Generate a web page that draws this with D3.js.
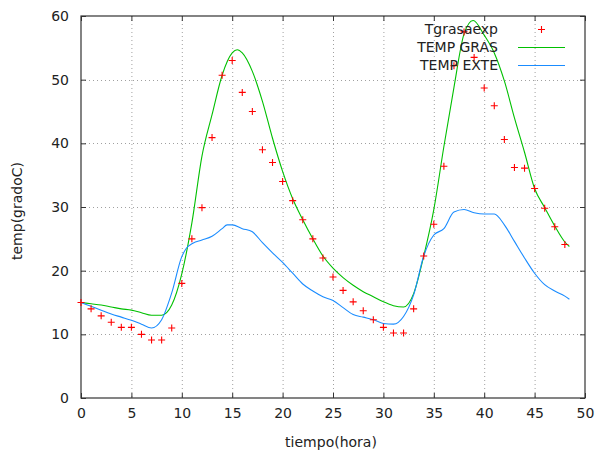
<!DOCTYPE html>
<html><head><meta charset="utf-8">
<script src="https://cdn.jsdelivr.net/npm/d3@7"></script>
<style>body{margin:0;background:#fff}svg{display:block}text{font-family:"DejaVu Sans",sans-serif;fill:#222}</style>
</head><body><svg id="c" width="595" height="450"></svg>
<script>
// Measured data (Tgrasaexp), hourly 0..48
const expHours = d3.range(0, 49);
const expValues = [15.0,14.0,12.9,11.9,11.1,11.1,10.0,9.1,9.1,11.0,
  18.0,25.0,29.9,40.9,50.7,53.0,48.0,45.0,39.0,37.0,
  34.0,31.0,28.0,25.0,22.0,19.0,16.9,15.1,13.7,12.3,
  11.1,10.2,10.2,14.0,22.3,27.3,36.4,52.2,57.5,53.5,
  48.7,45.9,40.6,36.2,36.1,32.9,29.8,26.9,24.1];
// Simulated TEMP GRAS
const grasHours = [0,1,2,3,4,5,6,7,8,9,10,11,12,13,14,15,15.5,16,17,18,19,20,21,22,23,24,25,26,27,28,29,30,31,32,33,34,35,36,37,38,38.9,40,41,42,43,44,45,46,47,48,48.45];
const grasValues = [15.0,14.8,14.6,14.3,14.0,13.8,13.4,13.0,13.0,14.6,19.5,27.5,38.0,44.5,50.7,54.2,54.7,54.2,51.3,46.6,40.8,35.6,31.3,28.0,25.0,22.3,20.4,18.9,17.7,16.7,15.9,15.1,14.5,14.3,16.4,22.3,29.6,39.5,48.8,57.2,59.3,57.0,54.2,49.8,44.0,38.6,32.9,29.9,27.0,24.5,23.8];
// Simulated TEMP EXTE
const exteHours = [0,1,2,3,4,5,6,7,8,9,10,10.4,11.1,12,13,14,14.5,15,16,17,18,19,20,21,22,23,24,25,26,27,28,29,30,31,32,33,34,35,36,37,38,39,40,41,42,43,44,45,46,47,48,48.45];
const exteValues = [15.0,14.4,13.8,13.2,12.7,12.2,11.6,11.0,12.3,16.5,22.2,23.4,24.3,24.8,25.4,26.6,27.2,27.2,26.6,26.1,24.4,22.8,21.3,19.6,17.9,16.8,15.9,15.3,14.2,13.1,12.7,12.3,11.7,11.6,12.8,16.2,22.3,25.6,26.6,29.2,29.6,29.1,28.9,28.9,27.2,24.6,22.0,19.6,17.8,16.8,16.0,15.5];
const xTicks = [0,5,10,15,20,25,30,35,40,45,50];
const yTicks = [0,10,20,30,40,50,60];
const legendLabels = ["Tgrasaexp","TEMP GRAS","TEMP EXTE"];
const colors = {exp:"#ff0000", gras:"#00c000", exte:"#1a8cff"};

const svg = d3.select("#c");
const L=81, R=585, T=16, B=398;
const x = d3.scaleLinear().domain([0,50]).range([L,R]);
const y = d3.scaleLinear().domain([0,60]).range([B,T]);

// grid
const g = svg.append("g");
g.selectAll(".gx").data(xTicks.slice(1,-1)).join("line")
  .attr("x1",d=>x(d)+0.5).attr("x2",d=>x(d)+0.5).attr("y1",T).attr("y2",B)
  .attr("stroke","#a0a0a0").attr("stroke-width",1).attr("stroke-dasharray","1,3");
g.selectAll(".gy").data(yTicks.slice(1,-1)).join("line")
  .attr("y1",d=>Math.round(y(d))+0.5).attr("y2",d=>Math.round(y(d))+0.5).attr("x1",L).attr("x2",R)
  .attr("stroke","#a0a0a0").attr("stroke-width",1).attr("stroke-dasharray","1,3");

// axes with inward ticks
const axB = d3.axisBottom(x).tickValues(xTicks).tickSize(-5).tickPadding(10);
const axL = d3.axisLeft(y).tickValues(yTicks).tickSize(-5).tickPadding(12);
const axT = d3.axisTop(x).tickValues(xTicks).tickSize(-5).tickFormat("");
const axR = d3.axisRight(y).tickValues(yTicks).tickSize(-5).tickFormat("");
function style(sel){
  sel.select(".domain").remove();
  sel.selectAll("line").attr("stroke","#333");
  sel.selectAll("text").style("font-family","'DejaVu Sans',sans-serif").style("font-size","14px").attr("fill","#333");
}
svg.append("g").attr("transform",`translate(0,${B})`).call(axB).call(style);
svg.append("g").attr("transform",`translate(${L},0)`).call(axL).call(style);
svg.append("g").attr("transform",`translate(0,${T})`).call(axT).call(style);
svg.append("g").attr("transform",`translate(${R},0)`).call(axR).call(style);
svg.append("rect").attr("x",L).attr("y",T).attr("width",R-L).attr("height",B-T)
  .attr("fill","none").attr("stroke","#333").attr("stroke-width",1.2);

// lines
const line = d3.line().curve(d3.curveMonotoneX);
svg.append("path").datum(grasHours.map((h,i)=>[x(h),y(grasValues[i])]))
  .attr("d",line).attr("fill","none").attr("stroke",colors.gras).attr("stroke-width",1.1);
svg.append("path").datum(exteHours.map((h,i)=>[x(h),y(exteValues[i])]))
  .attr("d",line).attr("fill","none").attr("stroke",colors.exte).attr("stroke-width",1.1);

// markers
const plus = (cx,cy,s)=>`M${cx-s},${cy}H${cx+s}M${cx},${cy-s}V${cy+s}`;
svg.append("path")
  .attr("d", expHours.map((h,i)=>plus(x(h),y(expValues[i]),3.5)).join(""))
  .attr("stroke",colors.exp).attr("stroke-width",1.1).attr("fill","none");

// legend
const lg = svg.append("g");
const rows = [29.5,47.5,65.5];
legendLabels.forEach((lab,i)=>{
  lg.append("text").attr("x",498).attr("y",rows[i]).attr("dy","0.35em")
    .attr("text-anchor","end").style("font-size","14px").attr("fill","#222").text(lab);
});
lg.append("path").attr("d",plus(541.5,rows[0],3.5)).attr("stroke",colors.exp).attr("stroke-width",1.1);
lg.append("line").attr("x1",518).attr("x2",565).attr("y1",rows[1]).attr("y2",rows[1]).attr("stroke",colors.gras).attr("stroke-width",1.1);
lg.append("line").attr("x1",518).attr("x2",565).attr("y1",rows[2]).attr("y2",rows[2]).attr("stroke",colors.exte).attr("stroke-width",1.1);

// titles
svg.append("text").attr("x",331).attr("y",447).attr("text-anchor","middle").style("font-size","14px").attr("fill","#222").text("tiempo(hora)");
svg.append("text").attr("transform","translate(22,211) rotate(-90)").attr("text-anchor","middle").style("font-size","14px").attr("fill","#222").text("temp(gradoC)");
</script></body></html>
